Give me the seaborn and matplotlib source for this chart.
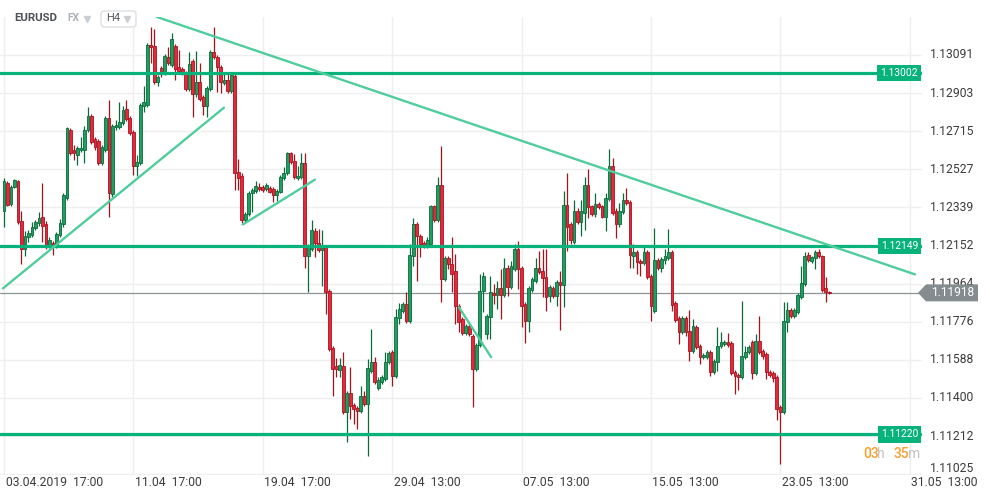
import numpy as np
import pandas as pd
import matplotlib
matplotlib.use("Agg")
import matplotlib.pyplot as plt
import seaborn as sns
from matplotlib.patches import Polygon, FancyBboxPatch
from matplotlib.lines import Line2D
import matplotlib.transforms as mtransforms

# ---------------- data (EURUSD, H4) ----------------
open_ = [1.12324,1.12462,1.12358,1.12442,1.12471,1.12270,1.12132,1.12191,1.12201,1.12240,
         1.12260,1.12294,1.12255,1.12147,1.12166,1.12147,1.12201,1.12255,1.12388,1.12722,
         1.12624,1.12599,1.12624,1.12624,1.12722,1.12791,1.12678,1.12668,1.12560,1.12624,
         1.12781,1.12403,1.12737,1.12737,1.12757,1.12826,1.12781,1.12713,1.12545,1.12560,
         1.12840,1.12845,1.13141,1.13136,1.12959,1.13027,1.13003,1.13082,1.13042,1.13136,
         1.13032,1.13023,1.13003,1.12924,1.13062,1.12900,1.12959,1.12885,1.12840,1.12924,
         1.13106,1.13082,1.13032,1.12954,1.12968,1.12914,1.12988,1.12516,1.12496,1.12275,
         1.12309,1.12408,1.12422,1.12442,1.12442,1.12432,1.12437,1.12432,1.12398,1.12417,
         1.12486,1.12511,1.12609,1.12570,1.12486,1.12491,1.12560,1.12098,1.12132,1.12221,
         1.12166,1.12127,1.12142,1.11925,1.11645,1.11556,1.11537,1.11556,1.11330,1.11424,
         1.11364,1.11350,1.11335,1.11409,1.11369,1.11532,1.11576,1.11448,1.11478,1.11492,
         1.11576,1.11625,1.11507,1.11793,1.11827,1.11861,1.11778,1.12102,1.12255,1.12196,
         1.12166,1.12147,1.12157,1.12344,1.12275,1.12452,1.11984,1.12088,1.12058,1.12024,
         1.11852,1.11788,1.11719,1.11753,1.11704,1.11542,1.11660,1.11925,1.11714,1.11797,
         1.11916,1.11906,1.11940,1.11906,1.12043,1.11945,1.12034,1.12132,1.12039,1.11861,
         1.11778,1.11930,1.11975,1.12043,1.12024,1.11994,1.11901,1.11940,1.11901,1.11970,
         1.11955,1.12353,1.12255,1.12171,1.12324,1.12265,1.12314,1.12452,1.12344,1.12309,
         1.12358,1.12344,1.12294,1.12383,1.12545,1.12324,1.12255,1.12319,1.12378,1.12368,
         1.12102,1.12117,1.12073,1.12063,1.12117,1.11999,1.11827,1.12078,1.12039,1.12078,
         1.12088,1.12117,1.11866,1.11793,1.11724,1.11793,1.11729,1.11630,1.11748,1.11655,
         1.11601,1.11601,1.11625,1.11527,1.11576,1.11655,1.11665,1.11674,1.11670,1.11527,
         1.11512,1.11502,1.11601,1.11625,1.11674,1.11522,1.11679,1.11630,1.11615,1.11527,
         1.11522,1.11502,1.11355,1.11330,1.11773,1.11832,1.11802,1.11822,1.11896,1.11960,
         1.12107,1.12073,1.12088,1.12117,1.12098,1.11940,1.11920]
high = [1.12486,1.12471,1.12452,1.12481,1.12476,1.12324,1.12221,1.12230,1.12265,1.12275,
        1.12319,1.12462,1.12270,1.12191,1.12176,1.12216,1.12280,1.12408,1.12737,1.12732,
        1.12649,1.12644,1.12688,1.12742,1.12836,1.12801,1.12688,1.12678,1.12649,1.12791,
        1.12870,1.12752,1.12772,1.12860,1.12840,1.12870,1.12791,1.12722,1.12599,1.12855,
        1.12939,1.13150,1.13229,1.13219,1.12993,1.13037,1.13096,1.13131,1.13200,1.13146,
        1.13116,1.13032,1.13013,1.13106,1.13072,1.13111,1.13052,1.12895,1.12939,1.13116,
        1.13229,1.13091,1.13042,1.13003,1.13003,1.13003,1.13003,1.12580,1.12511,1.12319,
        1.12422,1.12437,1.12467,1.12462,1.12452,1.12462,1.12447,1.12442,1.12432,1.12501,
        1.12540,1.12614,1.12614,1.12604,1.12545,1.12609,1.12609,1.12157,1.12275,1.12240,
        1.12235,1.12230,1.12152,1.11935,1.11655,1.11596,1.11596,1.11625,1.11433,1.11551,
        1.11374,1.11360,1.11458,1.11433,1.11591,1.11738,1.11601,1.11502,1.11512,1.11625,
        1.11630,1.11635,1.11837,1.11866,1.11871,1.11920,1.12157,1.12285,1.12265,1.12206,
        1.12176,1.12191,1.12353,1.12353,1.12491,1.12644,1.12098,1.12098,1.12191,1.12112,
        1.11861,1.11797,1.11763,1.11763,1.11714,1.11670,1.12009,1.12019,1.11812,1.11999,
        1.11960,1.11975,1.12034,1.12088,1.12053,1.12073,1.12157,1.12176,1.12048,1.11871,
        1.11950,1.11994,1.12088,1.12122,1.12132,1.12132,1.11955,1.11950,1.11979,1.12024,
        1.12422,1.12511,1.12265,1.12378,1.12334,1.12378,1.12491,1.12531,1.12353,1.12412,
        1.12368,1.12353,1.12412,1.12629,1.12585,1.12334,1.12363,1.12412,1.12437,1.12378,
        1.12157,1.12127,1.12083,1.12147,1.12127,1.12009,1.12240,1.12088,1.12093,1.12132,
        1.12235,1.12127,1.11876,1.11802,1.11802,1.11802,1.11832,1.11788,1.11758,1.11665,
        1.11620,1.11635,1.11635,1.11591,1.11748,1.11724,1.11684,1.11719,1.11679,1.11537,
        1.11522,1.11876,1.11655,1.11660,1.11684,1.11714,1.11802,1.11640,1.11625,1.11537,
        1.11532,1.11512,1.11364,1.11871,1.11871,1.11842,1.11842,1.11916,1.12048,1.12117,
        1.12117,1.12102,1.12127,1.12132,1.12107,1.11994,1.11925]
low = [1.12245,1.12344,1.12348,1.12437,1.12255,1.12058,1.12098,1.12171,1.12191,1.12230,
       1.12250,1.12171,1.12132,1.12137,1.12107,1.12137,1.12191,1.12245,1.12378,1.12599,
       1.12575,1.12550,1.12614,1.12560,1.12713,1.12654,1.12624,1.12550,1.12550,1.12614,
       1.12294,1.12393,1.12722,1.12727,1.12747,1.12767,1.12698,1.12501,1.12496,1.12550,
       1.12811,1.12836,1.13052,1.12949,1.12939,1.12983,1.12993,1.13042,1.13032,1.12968,
       1.13003,1.12993,1.12914,1.12914,1.12786,1.12885,1.12865,1.12796,1.12786,1.12914,
       1.13072,1.12909,1.12904,1.12944,1.12904,1.12904,1.12427,1.12427,1.12260,1.12265,
       1.12299,1.12319,1.12412,1.12422,1.12417,1.12422,1.12408,1.12368,1.12373,1.12408,
       1.12476,1.12501,1.12555,1.12481,1.12476,1.12481,1.12043,1.11920,1.12122,1.12093,
       1.12117,1.11950,1.11812,1.11630,1.11409,1.11502,1.11502,1.11320,1.11182,1.11296,
       1.11271,1.11246,1.11325,1.11360,1.11114,1.11522,1.11468,1.11438,1.11468,1.11483,
       1.11566,1.11458,1.11497,1.11763,1.11817,1.11768,1.11768,1.12048,1.11975,1.12093,
       1.12137,1.12137,1.12147,1.12265,1.12265,1.11871,1.11975,1.12034,1.11920,1.11763,
       1.11724,1.11709,1.11709,1.11704,1.11355,1.11532,1.11650,1.11822,1.11689,1.11689,
       1.11861,1.11837,1.11788,1.11896,1.11901,1.11935,1.12024,1.11935,1.11748,1.11670,
       1.11724,1.11920,1.11965,1.12009,1.11896,1.11827,1.11871,1.11891,1.11852,1.11733,
       1.11847,1.12122,1.12157,1.12157,1.12255,1.12196,1.12230,1.12289,1.12299,1.12294,
       1.12329,1.12285,1.12225,1.12373,1.12304,1.12186,1.12245,1.12309,1.12353,1.12039,
       1.12043,1.12009,1.11999,1.12053,1.11984,1.11778,1.11817,1.12029,1.12019,1.12058,
       1.12078,1.11827,1.11773,1.11665,1.11714,1.11704,1.11581,1.11620,1.11640,1.11566,
       1.11591,1.11591,1.11507,1.11517,1.11532,1.11645,1.11655,1.11650,1.11512,1.11419,
       1.11438,1.11492,1.11591,1.11615,1.11492,1.11512,1.11615,1.11591,1.11492,1.11502,
       1.11478,1.11291,1.11074,1.11320,1.11724,1.11793,1.11793,1.11812,1.11886,1.11950,
       1.12068,1.12063,1.12034,1.12088,1.11920,1.11871,1.11911]
close = [1.12467,1.12353,1.12442,1.12476,1.12265,1.12132,1.12196,1.12211,1.12245,1.12265,
         1.12289,1.12250,1.12147,1.12181,1.12142,1.12206,1.12260,1.12398,1.12732,1.12609,
         1.12609,1.12634,1.12634,1.12722,1.12791,1.12663,1.12639,1.12560,1.12639,1.12781,
         1.12408,1.12742,1.12747,1.12762,1.12821,1.12777,1.12708,1.12545,1.12565,1.12845,
         1.12860,1.13141,1.13131,1.12959,1.12983,1.13003,1.13086,1.13052,1.13170,1.13023,
         1.13013,1.13003,1.12924,1.13047,1.12900,1.12959,1.12875,1.12840,1.12929,1.13106,
         1.13082,1.13032,1.12959,1.12968,1.12914,1.12993,1.12511,1.12486,1.12275,1.12309,
         1.12412,1.12427,1.12447,1.12432,1.12427,1.12452,1.12417,1.12398,1.12422,1.12491,
         1.12511,1.12609,1.12565,1.12491,1.12496,1.12560,1.12098,1.12142,1.12230,1.12166,
         1.12127,1.12137,1.11920,1.11640,1.11542,1.11542,1.11561,1.11330,1.11424,1.11360,
         1.11345,1.11335,1.11409,1.11369,1.11547,1.11576,1.11478,1.11487,1.11502,1.11576,
         1.11620,1.11507,1.11797,1.11837,1.11861,1.11778,1.12107,1.12255,1.12196,1.12157,
         1.12147,1.12181,1.12344,1.12275,1.12452,1.11984,1.12088,1.12058,1.12009,1.11852,
         1.11773,1.11719,1.11753,1.11714,1.11542,1.11660,1.11925,1.11999,1.11802,1.11920,
         1.11906,1.11940,1.11906,1.12043,1.11945,1.12048,1.12132,1.12034,1.11852,1.11778,
         1.11940,1.11984,1.12043,1.12019,1.11989,1.11896,1.11945,1.11901,1.11970,1.11955,
         1.12353,1.12245,1.12181,1.12324,1.12265,1.12324,1.12452,1.12339,1.12309,1.12358,
         1.12339,1.12294,1.12388,1.12545,1.12314,1.12255,1.12324,1.12378,1.12363,1.12107,
         1.12117,1.12068,1.12063,1.12117,1.11994,1.11852,1.12078,1.12039,1.12083,1.12098,
         1.12117,1.11856,1.11783,1.11724,1.11793,1.11724,1.11630,1.11753,1.11650,1.11601,
         1.11610,1.11625,1.11527,1.11581,1.11655,1.11674,1.11674,1.11660,1.11522,1.11507,
         1.11502,1.11606,1.11625,1.11650,1.11522,1.11679,1.11625,1.11606,1.11527,1.11512,
         1.11497,1.11345,1.11330,1.11778,1.11832,1.11802,1.11832,1.11906,1.11965,1.12102,
         1.12078,1.12093,1.12117,1.12098,1.11930,1.11920,1.11918]

x_tick_pos = [0, 37, 74, 111, 148, 185, 222, 259]
x_tick_labels = ["03.04.2019  17:00", "11.04  17:00", "19.04  17:00", "29.04  13:00",
                 "07.05  13:00", "15.05  13:00", "23.05  13:00", "31.05  13:00"]
y_ticks = [1.11025, 1.11212, 1.11400, 1.11588, 1.11776, 1.11964,
           1.12152, 1.12339, 1.12527, 1.12715, 1.12903, 1.13091]
levels = [1.13002, 1.12149, 1.11220]
last_price = 1.11918
trend_main_x, trend_main_y = [43.75, 260.5], [1.13278, 1.12009]
trend_up1_x, trend_up1_y = [-0.3, 62.9], [1.11940, 1.12831]
trend_up2_x, trend_up2_y = [68.3, 88.9], [1.12255, 1.12476]
trend_dn_x, trend_dn_y = [130.1, 139.3], [1.11847, 1.11601]

# ---------------- style ----------------
sns.set_theme(style="white")
plt.rcParams['font.family'] = ['Roboto', 'DejaVu Sans']

W, H = 990, 499
fig = plt.figure(figsize=(W / 100, H / 100), dpi=100)
fig.patch.set_facecolor('white')
ax = fig.add_axes([0, 24 / H, 922 / W, 458 / H])
ax.set_facecolor('white')

df = pd.DataFrame({"open": open_, "high": high, "low": low, "close": close})
df["idx"] = np.arange(len(df))
up = df["close"] >= df["open"]

GREEN_FILL, GREEN_EDGE = '#1f9e5f', '#0b6a3b'
RED_FILL, RED_EDGE = '#e5283a', '#a5131f'
fill = np.where(up, GREEN_FILL, RED_FILL)
edge = np.where(up, GREEN_EDGE, RED_EDGE)

ax.vlines(df["idx"], df["low"], df["high"], colors=edge, lw=0.9, zorder=3)
body_h = np.maximum((df["close"] - df["open"]).abs(), 0.00004)
body_b = np.minimum(df["open"], df["close"])
ax.bar(df["idx"], body_h, bottom=body_b, width=0.8, color=fill,
       edgecolor=edge, linewidth=0.6, zorder=4)

# limits
ax.set_xlim(-1.144, 262.5)
ax.set_ylim(1.11020, 1.13278)

# grid
ax.set_xticks(x_tick_pos)
ax.set_yticks(y_ticks)
ax.set_xticklabels([])
ax.set_yticklabels([])
ax.tick_params(length=0)
ax.grid(True, color='#efefef', lw=1)
ax.set_axisbelow(True)
for s in ax.spines.values():
    s.set_visible(False)

# axis labels as annotations
for p, lab in zip(x_tick_pos, x_tick_labels):
    ax.annotate(lab, xy=(p, 0), xycoords=('data', 'axes fraction'),
                xytext=(1.5, -8), textcoords='offset pixels', ha='left', va='center',
                fontsize=8.7, color='#3b3b3b', annotation_clip=False)
for v in y_ticks:
    dy = 5 if v == y_ticks[0] else 0
    ax.annotate(f"{v:.5f}", xy=(1, v), xycoords=('axes fraction', 'data'),
                xytext=(8, dy), textcoords='offset pixels', ha='left', va='center',
                fontsize=8.7, color='#3b3b3b', annotation_clip=False)

# current price line
ax.axhline(last_price, color='#8d9397', lw=0.9, zorder=2)

# key levels
LEVEL = '#08b27b'
for lv in levels:
    ax.axhline(lv, color=LEVEL, lw=2.3, zorder=5)
    ax.annotate(f"{lv:.5f}", xy=(1, lv), xycoords=('axes fraction', 'data'),
                xytext=(-4, 0), textcoords='offset pixels', ha='right', va='center',
                fontsize=7.4, color='white', zorder=7,
                bbox=dict(boxstyle='square,pad=0.3', fc=LEVEL, ec='none'))

# trend lines
TREND = '#4fcd9c'
for tx, ty in [(trend_main_x, trend_main_y), (trend_up1_x, trend_up1_y),
               (trend_up2_x, trend_up2_y), (trend_dn_x, trend_dn_y)]:
    sns.lineplot(x=tx, y=ty, ax=ax, color=TREND, lw=1.7, zorder=6, legend=False)
ax.set_xlabel('')
ax.set_ylabel('')

# current price tag (pentagon)
yd = ax.transData.transform((0, last_price))[1]
poly = Polygon([(918, yd), (926, yd + 8.5), (978, yd + 8.5), (978, yd - 8.5), (926, yd - 8.5)],
               closed=True, fc='#858c90', ec='none', transform=mtransforms.IdentityTransform(),
               zorder=10)
fig.add_artist(poly)
fig.text(931 / W, yd / H, f"{last_price:.5f}", color='white', fontsize=8.6,
         ha='left', va='center', zorder=11)

# header
yh = 1 - 18 / H
fig.text(14 / W, yh, "EURUSD", fontsize=8.2, fontweight='bold', color='#4b5157', va='center')
fig.text(67 / W, yh, "FX", fontsize=7.3, fontweight='bold', color='#aab1b7', va='center')
fig.add_artist(Line2D([87 / W], [1 - 19 / H], marker='v', ms=4.5, color='#c9ced2',
                      transform=fig.transFigure))
box = FancyBboxPatch((101, H - 27), 35, 16, boxstyle='round,pad=0,rounding_size=3',
                     fc='white', ec='#dcdfe2', lw=1, transform=mtransforms.IdentityTransform())
fig.add_artist(box)
fig.text(106 / W, yh, "H4", fontsize=8, color='#555b60', va='center')
fig.add_artist(Line2D([127 / W], [1 - 19 / H], marker='v', ms=4.5, color='#c9ced2',
                      transform=fig.transFigure))

# countdown
yc = 1 - 454 / H
ORANGE, GREY = '#f6a02f', '#c2c2c2'
fig.text(863 / W, yc, "03", fontsize=10, color=ORANGE, va='center', fontweight='medium')
fig.text(877 / W, yc, "h", fontsize=10, color=GREY, va='center')
fig.text(893 / W, yc, "35", fontsize=10, color=ORANGE, va='center', fontweight='medium')
fig.text(908 / W, yc, "m", fontsize=10, color=GREY, va='center')

fig.savefig("out.png", dpi=100, facecolor='white')
